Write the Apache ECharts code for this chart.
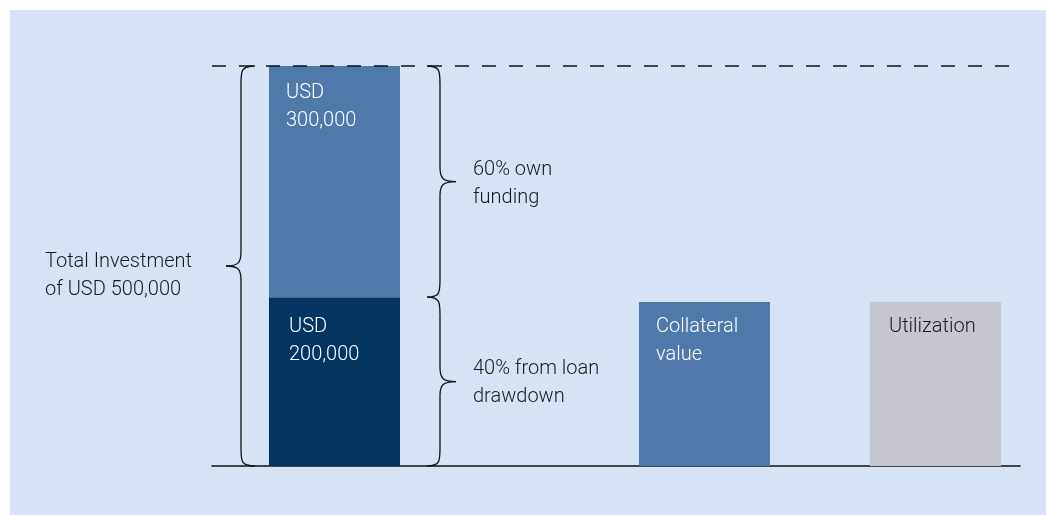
<!DOCTYPE html>
<html>
<head>
<meta charset="utf-8">
<script src="https://cdn.jsdelivr.net/npm/echarts@6/dist/echarts.min.js"></script>
<style>
  html, body { margin: 0; padding: 0; background: #ffffff; }
  #chart { width: 1046px; height: 515px; }
</style>
</head>
<body>
<div id="chart"></div>
<script>
// ---- data (thousand USD) ----
const categories = ['Total investment', 'Collateral value', 'Utilization'];
const loanDrawdown = [211, null, null];
const ownFunding = [289, null, null];
const collateralValue = [null, 205, null];
const utilization = [null, null, 205];
const totalInvestment = 500;

const loanLabel = 'USD\n200,000';
const ownLabel = 'USD\n300,000';
const collateralLabel = 'Collateral\nvalue';
const utilizationLabel = 'Utilization';
const totalText = 'Total Investment\nof USD 500,000';
const ownText = '60% own\nfunding';
const loanText = '40% from loan\ndrawdown';

// ---- layout (not data) ----
const xSlots = [15.16, 60.95, 89.54];
const BAR_W = 131;
const FONT = 'Roboto, "Liberation Sans", sans-serif';
const FS = 20, LH = 28;

// rows are [value, slot] so the value dimension is the stacked one
function pts(arr) {
  return arr.map((v, i) => v == null ? null : [v, xSlots[i]]).filter(d => d);
}
function lbl(text, dx, dy, color) {
  return {
    show: true, position: [dx, dy], formatter: text, color: color,
    fontFamily: FONT, fontWeight: 300, fontSize: FS, lineHeight: LH,
    align: 'left', verticalAlign: 'top'
  };
}
function barSeries(name, arr, color, label, extra) {
  return Object.assign({
    name: name, type: 'bar', barWidth: BAR_W, barGap: '-100%',
    encode: { x: 1, y: 0 },
    data: pts(arr), itemStyle: { color: color }, label: label
  }, extra || {});
}

const chart = echarts.init(document.getElementById('chart'), null, { renderer: 'canvas' });

const option = {
  backgroundColor: '#ffffff',
  animation: false,
  grid: { left: 212, right: 26, top: 66, bottom: 49 },
  xAxis: {
    type: 'value', min: 0, max: 100,
    axisLine: { show: true, onZero: false, lineStyle: { color: '#111', width: 1.5 } },
    axisTick: { show: false }, axisLabel: { show: false }, splitLine: { show: false }
  },
  yAxis: {
    type: 'value', min: 0, max: totalInvestment,
    axisLine: { show: false }, axisTick: { show: false },
    axisLabel: { show: false }, splitLine: { show: false }
  },
  series: [
    barSeries(categories[0] + ' – loan', loanDrawdown, '#023561', lbl(loanLabel, 20, 16, '#ffffff'), { stack: 'inv' }),
    barSeries(categories[0] + ' – own', ownFunding, '#4e7aab', lbl(ownLabel, 17, 13, '#ffffff'), {
      stack: 'inv',
      markLine: {
        silent: true, symbol: 'none', label: { show: false },
        lineStyle: { color: '#111', type: [14, 13], width: 1.5 },
        data: [{ yAxis: totalInvestment }]
      }
    }),
    barSeries(categories[1], collateralValue, '#4e7aab', lbl(collateralLabel, 17, 11, '#ffffff')),
    barSeries(categories[2], utilization, '#c6c6d0', lbl(utilizationLabel, 19, 11, '#1a1a1a'))
  ]
};
chart.setOption(option);

// ---- annotations (braces + texts) placed from the axis scales ----
const P = v => chart.convertToPixel({ gridIndex: 0 }, v);
const yBase = P([xSlots[0], 0])[1];
const yMid = P([xSlots[0], loanDrawdown[0]])[1];
const yTop = P([xSlots[0], totalInvestment])[1];
const xc = P([xSlots[0], 0])[0];
const barL = xc - BAR_W / 2, barR = xc + BAR_W / 2;

const STROKE = { stroke: '#111', lineWidth: 1.3, fill: null };
function curve(x1, y1, c1x, c1y, c2x, c2y, x2, y2) {
  return { type: 'bezierCurve', silent: true,
    shape: { x1: x1, y1: y1, cpx1: c1x, cpy1: c1y, cpx2: c2x, cpy2: c2y, x2: x2, y2: y2 },
    style: STROKE };
}
function seg(x1, y1, x2, y2) {
  return { type: 'line', silent: true, shape: { x1: x1, y1: y1, x2: x2, y2: y2 }, style: STROKE };
}
function brace(y0, y1, e, s, t) {
  const m = (y0 + y1) / 2, r = 18, k = 14, q = s + (t - s) * 0.2;
  return {
    type: 'group', z: 10, silent: true,
    children: [
      curve(e, y0, s, y0, s, y0 + 5, s, y0 + r),
      seg(s, y0 + r, s, m - k),
      curve(s, m - k, s, m - 3, q, m, t, m),
      curve(t, m, q, m, s, m + 3, s, m + k),
      seg(s, m + k, s, y1 - r),
      curve(s, y1 - r, s, y1 - 5, s, y1, e, y1)
    ]
  };
}
function txt(x, y, text) {
  return {
    type: 'text', x: x, y: y, z: 10, silent: true,
    style: {
      text: text, fill: '#1a1a1a', font: `300 ${FS}px ${FONT}`,
      lineHeight: LH, textAlign: 'left', textVerticalAlign: 'middle'
    }
  };
}

const lS = barL - 28, lE = barL - 14, lT = barL - 43;
const rS = barR + 40, rE = barR + 27, rT = barR + 56;

chart.setOption({
  graphic: [
    { type: 'rect', z: -10, silent: true, shape: { x: 10, y: 10, width: 1036, height: 505 }, style: { fill: '#d6e3f4' } },
    brace(yTop, yBase, lE, lS, lT),
    brace(yTop, yMid, rE, rS, rT),
    brace(yMid, yBase, rE, rS, rT),
    txt(45, (yTop + yBase) / 2 + 10, totalText),
    txt(rT + 17, (yTop + yMid) / 2 + 2, ownText),
    txt(rT + 17, (yMid + yBase) / 2 + 1, loanText)
  ]
});
</script>
</body>
</html>
